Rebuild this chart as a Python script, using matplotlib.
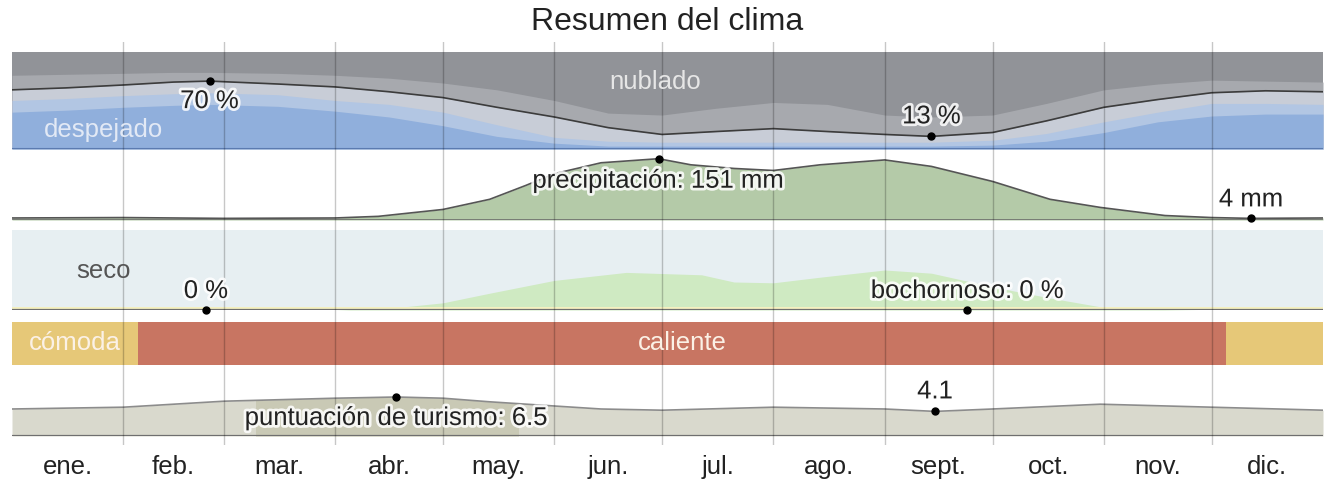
import matplotlib
matplotlib.use('Agg')
import matplotlib.pyplot as plt
import matplotlib.patheffects as pe
from matplotlib.patches import Rectangle
from matplotlib.transforms import offset_copy

plt.rcParams['font.family'] = ['Liberation Sans', 'DejaVu Sans']

# --- cloud cover: cumulative share of time (%) from clear upward ---
cloud_days = [0, 15, 31, 45, 55, 74, 90, 105, 120, 135, 151, 166, 181,
              196, 212, 227, 243, 256, 273, 288, 304, 319, 334, 349, 365]
clear_top = [38, 40, 43, 45, 46, 44, 39, 33, 24, 13, 6, 3, 3,
             3, 3, 3, 3, 3, 4, 8, 17, 28, 34, 36, 36]
mostly_clear_top = [50, 52, 55, 57, 58, 56, 50, 46, 38, 25, 12, 8, 7,
                    7, 7, 7, 7, 7, 9, 16, 28, 38, 47, 47, 46]
partly_cloudy_top = [61, 63, 66, 69, 70, 67, 64, 59, 53, 43, 33, 22, 15,
                     18, 21, 18, 15, 13, 17, 29, 43, 51, 58, 60, 59]
mostly_cloudy_top = [76, 77, 78, 79, 79, 78, 76, 73, 68, 61, 50, 37, 35,
                     42, 48, 46, 35, 33, 35, 47, 61, 67, 71, 70, 69]

# --- monthly rainfall (mm, 31-day sliding) ---
rain_days = [0, 31, 59, 90, 102, 120, 133, 143, 151, 164, 180, 189,
             201, 212, 225, 243, 256, 273, 289, 303, 321, 334, 345, 365]
rain_mm = [5, 6, 4, 5, 9, 26, 51, 85, 114, 141, 151, 136,
           127, 122, 136, 148, 132, 95, 51, 31, 11, 6, 4, 5]

# --- humidity (%) ---
humid_days = [0, 90, 106, 120, 133, 151, 171, 192, 201, 212, 225,
              243, 256, 273, 289, 303, 315, 330, 365]
humid_pct = [0, 0, 2.5, 9, 21, 37, 47, 44, 35, 34, 41,
             50, 46, 29, 15, 4, 1, 0, 0]
muggy_marks = [(54, 0, '0 %'), (266, 0, 'bochornoso: 0 %')]

# --- perceived temperature periods ---
temp_bounds = [0, 35, 338, 365]
temp_names = ['cómoda', 'caliente', 'cómoda']
temp_colors = ['#e6c878', '#c87562', '#e6c878']

# --- tourism score ---
tour_days = [0, 31, 59, 90, 107, 120, 133, 151, 164, 181, 212, 243,
             257, 273, 303, 334, 365]
tour_score = [4.5, 4.8, 5.8, 6.3, 6.5, 6.3, 5.7, 5.0, 4.5, 4.3, 4.8, 4.5,
              4.1, 4.5, 5.3, 4.8, 4.3]
best_days = (68, 141)

month_starts = [0, 31, 59, 90, 120, 151, 181, 212, 243, 273, 304, 334, 365]
month_names = ['ene.', 'feb.', 'mar.', 'abr.', 'may.', 'jun.',
               'jul.', 'ago.', 'sept.', 'oct.', 'nov.', 'dic.']

W, H = 1328, 483
LEFT, RIGHT = 12, 1323
LABEL_FS = 18.5
fig = plt.figure(figsize=(W / 100, H / 100), dpi=100)
halo = [pe.withStroke(linewidth=4, foreground='white', alpha=0.85)]


def band(top, bottom, ylim):
    ax = fig.add_axes([LEFT / W, 1 - bottom / H, (RIGHT - LEFT) / W, (bottom - top) / H])
    ax.set_xlim(0, 365)
    ax.set_ylim(*ylim)
    ax.set_axis_off()
    return ax


def note(ax, x, y, s, dy, dot=True, color='#222222', effects=halo):
    # text placed dy pixels above (or below) its anchor, drawn above the grid
    tr = offset_copy(ax.transData, fig=fig, x=0, y=dy, units='dots')
    fig.text(x, y, s, transform=tr, ha='center', va='center',
             fontsize=LABEL_FS, color=color, path_effects=effects)
    if dot:
        ax.plot(x, y, 'o', color='black', ms=5, clip_on=False, zorder=5)


# cloud cover
ax_c = band(52, 149, (0, 100))
ax_c.fill_between(cloud_days, 0, 100, color='#919398', lw=0)
ax_c.fill_between(cloud_days, 0, mostly_cloudy_top, color='#a7a9ae', lw=0)
ax_c.fill_between(cloud_days, 0, partly_cloudy_top, color='#c8cdd7', lw=0)
ax_c.fill_between(cloud_days, 0, mostly_clear_top, color='#b2c6e3', lw=0)
ax_c.fill_between(cloud_days, 0, clear_top, color='#90afdc', lw=0)
ax_c.plot(cloud_days, partly_cloudy_top, color='#3c3c3c', lw=1.2)
ax_c.axhline(0, color='#5b7bb0', lw=1.5)
i_max = partly_cloudy_top.index(max(partly_cloudy_top))
i_min = partly_cloudy_top.index(min(partly_cloudy_top))
note(ax_c, cloud_days[i_max], partly_cloudy_top[i_max], f'{partly_cloudy_top[i_max]} %', -20)
note(ax_c, cloud_days[i_min], partly_cloudy_top[i_min], f'{partly_cloudy_top[i_min]} %', 20)
note(ax_c, 179, 69, 'nublado', 0, dot=False, color='#e6e6e6', effects=None)
note(ax_c, 25.6, 19.6, 'despejado', 0, dot=False, color='#e2e9f5', effects=None)

# rainfall
ax_r = band(151, 220, (0, 170))
ax_r.fill_between(rain_days, 0, rain_mm, color='#b4caa8', lw=0)
ax_r.plot(rain_days, rain_mm, color='#555555', lw=1.2)
ax_r.axhline(0, color='#666666', lw=1.8)
i_max = rain_mm.index(max(rain_mm))
note(ax_r, rain_days[i_max], rain_mm[i_max], f'precipitación: {rain_mm[i_max]} mm', -22)
i_min = 22
note(ax_r, rain_days[i_min], rain_mm[i_min], f'{rain_mm[i_min]} mm', 19)

# humidity
ax_h = band(230, 310, (0, 100))
ax_h.axhspan(0, 100, color='#e7eff2', lw=0)
ax_h.fill_between(humid_days, 0, humid_pct, color='#cfeac2', lw=0)
ax_h.axhspan(1.5, 3.5, color='#f4f0c0', lw=0)
ax_h.axhline(0, color='#707070', lw=1.6)
note(ax_h, 25.6, 49, 'seco', 0, dot=False, color='#555555', effects=None)
for d, v, s in muggy_marks:
    note(ax_h, d, v, s, 19)

# perceived temperature
ax_t = band(322, 365, (0, 1))
for a, b, name, col in zip(temp_bounds[:-1], temp_bounds[1:], temp_names, temp_colors):
    ax_t.axvspan(a, b, color=col, lw=0)
for a, b, name in zip(temp_bounds[:2], temp_bounds[1:3], temp_names[:2]):
    note(ax_t, (a + b) / 2, 0.5, name, 0, dot=False, color='#fbf1e6', effects=None)

# tourism score
ax_s = band(370, 436, (0, 11))
ax_s.fill_between(tour_days, 0, tour_score, color='#d9d9cd', lw=0)
best = ax_s.fill_between(tour_days, 0, tour_score, color='#c9c9b5', lw=0)
clip = Rectangle((best_days[0], 0), best_days[1] - best_days[0], 11,
                 transform=ax_s.transData)
best.set_clip_path(clip)
ax_s.plot(tour_days, tour_score, color='#8c8c8c', lw=1.2)
ax_s.axhline(0, color='#6f6f6f', lw=1.6)
i_max = tour_score.index(max(tour_score))
i_min = tour_score.index(min(tour_score))
note(ax_s, tour_days[i_max], tour_score[i_max], f'puntuación de turismo: {tour_score[i_max]}', -21)
note(ax_s, tour_days[i_min], tour_score[i_min], f'{tour_score[i_min]}', 20)

# month grid and labels
ax_g = band(42, 445, (0, 1))
for d in month_starts[1:-1]:
    ax_g.axvline(d, color='black', alpha=0.22, lw=1)
for a, b, name in zip(month_starts[:-1], month_starts[1:], month_names):
    ax_g.text((a + b) / 2, -0.055, name, transform=ax_g.get_xaxis_transform(),
              ha='center', va='center', fontsize=LABEL_FS, color='#222222')

fig.text((LEFT + RIGHT) / 2 / W, 1 - 22 / H, 'Resumen del clima',
         ha='center', va='center', fontsize=23, color='#222222')

fig.savefig('out.png', dpi=100)
